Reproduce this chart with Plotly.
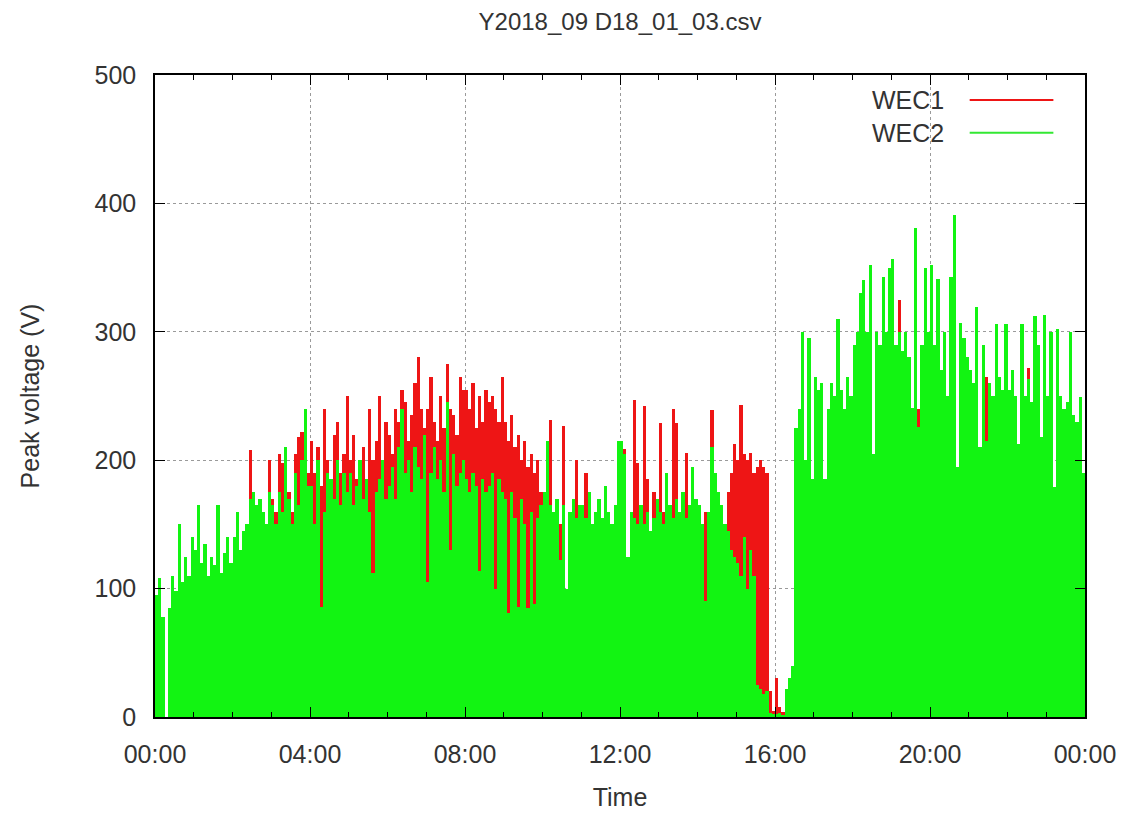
import plotly.graph_objects as go
import pandas as pd

# 5-minute samples over one day (288 per series)
start = "2018-09-18 00:00"
times = pd.date_range(start, periods=288, freq="5min")

wec2 = [
    95, 108, 78, 0, 85, 110, 98, 150, 105, 125, 110, 140,        # 00h
    130, 165, 120, 135, 110, 125, 118, 165, 112, 128, 140, 120,  # 01h
    140, 160, 130, 145, 150, 170, 175, 165, 170, 160, 150, 175,  # 02h
    165, 150, 175, 160, 210, 170, 150, 190, 165, 200, 240, 180,  # 03h
    180, 150, 200, 86, 160, 190, 185, 170, 200, 165, 190, 175,   # 04h
    190, 165, 180, 200, 170, 185, 160, 112, 175, 185, 200, 170,  # 05h
    180, 195, 170, 210, 240, 190, 200, 175, 210, 195, 185, 220,  # 06h
    105, 190, 210, 185, 200, 175, 245, 130, 205, 180, 190, 200,  # 07h
    185, 175, 190, 180, 114, 185, 175, 180, 190, 100, 185, 175,  # 08h
    170, 81, 175, 155, 86, 170, 150, 85, 160, 88, 155, 165,      # 09h
    175, 215, 165, 160, 170, 122, 165, 100, 160, 170, 155, 165,  # 10h
    165, 155, 175, 150, 160, 170, 155, 180, 160, 150, 165, 215,  # 11h
    215, 205, 125, 160, 155, 150, 165, 150, 160, 145, 155, 170,  # 12h
    160, 150, 190, 165, 155, 170, 160, 175, 155, 165, 195, 170,  # 13h
    165, 150, 90, 160, 210, 190, 175, 165, 150, 145, 130, 125,   # 14h
    120, 110, 140, 100, 130, 110, 25, 22, 18, 20, 3, 2,          # 15h
    2, 3, 1, 22, 30, 40, 225, 240, 300, 200, 295, 185,           # 16h
    265, 255, 260, 185, 240, 260, 250, 310, 255, 240, 265, 250,  # 17h
    290, 300, 330, 340, 300, 352, 205, 300, 290, 343, 300, 350,  # 18h
    357, 290, 300, 285, 300, 280, 241, 381, 226, 290, 350, 300,  # 19h
    352, 290, 341, 270, 300, 250, 343, 391, 195, 307, 295, 280,  # 20h
    270, 260, 319, 210, 290, 215, 260, 250, 306, 265, 255, 306,  # 21h
    255, 270, 250, 213, 306, 250, 263, 245, 312, 290, 218, 313,  # 22h
    250, 300, 179, 302, 250, 240, 245, 300, 235, 230, 249, 190,  # 23h
]

wec1 = [
    80, 95, 70, 0, 80, 100, 90, 120, 95, 110, 100, 120,          # 00h
    115, 140, 105, 120, 100, 110, 105, 140, 100, 115, 125, 110,  # 01h
    125, 145, 120, 130, 140, 208, 160, 150, 165, 150, 140, 200,  # 02h
    170, 160, 205, 198, 185, 175, 160, 205, 218, 222, 200, 190,  # 03h
    215, 190, 210, 180, 240, 200, 185, 220, 230, 190, 205, 250,  # 04h
    200, 220, 185, 195, 210, 180, 240, 200, 215, 250, 190, 230,  # 05h
    220, 205, 240, 230, 255, 245, 215, 235, 260, 280, 240, 225,  # 06h
    240, 265, 230, 215, 250, 225, 275, 240, 235, 220, 265, 255,  # 07h
    255, 240, 260, 225, 250, 230, 255, 245, 250, 240, 230, 265,  # 08h
    230, 215, 235, 210, 220, 200, 215, 195, 205, 190, 200, 175,  # 09h
    160, 200, 231, 150, 155, 150, 227, 95, 150, 160, 200, 150,   # 10h
    150, 190, 150, 140, 150, 160, 145, 160, 150, 140, 155, 200,  # 11h
    200, 209, 120, 150, 247, 198, 150, 242, 185, 140, 175, 165,  # 12h
    229, 160, 170, 150, 240, 229, 150, 165, 206, 150, 180, 160,  # 13h
    150, 140, 160, 150, 239, 175, 160, 155, 140, 175, 190, 213,  # 14h
    200, 243, 205, 200, 206, 190, 195, 200, 195, 190, 20, 5,     # 15h
    30, 8, 4, 4, 5, 6, 205, 220, 275, 185, 270, 170,             # 16h
    245, 235, 240, 170, 220, 240, 230, 285, 235, 220, 245, 230,  # 17h
    270, 280, 305, 315, 280, 320, 185, 280, 270, 315, 280, 320,  # 18h
    300, 260, 325, 250, 270, 250, 220, 300, 240, 260, 300, 270,  # 19h
    320, 260, 310, 245, 270, 225, 315, 350, 180, 280, 265, 255,  # 20h
    245, 235, 290, 190, 265, 265, 240, 230, 280, 245, 230, 280,  # 21h
    235, 250, 230, 195, 280, 235, 272, 225, 290, 265, 200, 290,  # 22h
    230, 275, 165, 280, 230, 220, 225, 275, 215, 210, 230, 175,  # 23h
]

series_names = ["WEC1", "WEC2"]
title_text = "Y2018_09 D18_01_03.csv"
x_title = "Time"
y_title = "Peak voltage (V)"

RED = "#ee1515"
GREEN = "#12f412"
FONT = "Liberation Sans"
TXT = "#333333"
step_ms = 5 * 60 * 1000

fig = go.Figure()
fig.add_trace(go.Bar(x=times, y=wec1, name=series_names[0], width=step_ms, offset=0,
                     marker=dict(color=RED, line=dict(width=0)), showlegend=False))
fig.add_trace(go.Bar(x=times, y=wec2, name=series_names[1], width=step_ms, offset=0,
                     marker=dict(color=GREEN, line=dict(width=0)), showlegend=False))

axis_common = dict(
    showline=True, linecolor="black", linewidth=1.5, mirror="ticks",
    ticks="inside", tickcolor="black", ticklen=10, tickwidth=1.2,
    showgrid=True, gridcolor="#9a9a9a", griddash="dot", gridwidth=1,
    zeroline=False, automargin=False,
    tickfont=dict(family=FONT, size=25, color=TXT),
)

fig.update_layout(
    width=1126, height=813,
    margin=dict(l=155, r=41, t=75, b=96),
    paper_bgcolor="white", plot_bgcolor="white",
    barmode="overlay", bargap=0,
    font=dict(family=FONT, size=25, color=TXT),
    title=dict(text=title_text, x=0.5, xref="paper", xanchor="center",
               y=1 - 22 / 813, yref="container", yanchor="middle",
               font=dict(family=FONT, size=24, color=TXT)),
    xaxis=dict(
        type="date", range=["2018-09-18 00:00", "2018-09-19 00:00"],
        tick0="2018-09-18 00:00", dtick=4 * 3600 * 1000, tickformat="%H:%M",
        ticklabelstandoff=14,
        minor=dict(dtick=3600 * 1000, ticks="inside", ticklen=5, tickcolor="black", showgrid=False),
        title=dict(text=x_title, standoff=22, font=dict(family=FONT, size=25, color=TXT)),
        **axis_common,
    ),
    yaxis=dict(
        range=[0, 500], dtick=100, ticklabelstandoff=12,
        title=dict(text=y_title, standoff=48, font=dict(family=FONT, size=25, color=TXT)),
        **axis_common,
    ),
)

# legend in gnuplot style: right-aligned label followed by a line sample
legend_rows = [(series_names[0], RED, 0.961), (series_names[1], "#33e833", 0.910)]
for name, col, yy in legend_rows:
    fig.add_annotation(text=name, xref="paper", yref="paper", x=0.851, y=yy,
                       xanchor="right", yanchor="middle", showarrow=False,
                       font=dict(family=FONT, size=25, color=TXT))
    fig.add_shape(type="line", xref="paper", yref="paper", x0=0.876, x1=0.966, y0=yy, y1=yy,
                  line=dict(color=col, width=2))

fig.write_html(
    "out.html",
    config={"displayModeBar": False},
    post_script="document.body.style.margin='0px';document.body.style.overflow='hidden';",
)
